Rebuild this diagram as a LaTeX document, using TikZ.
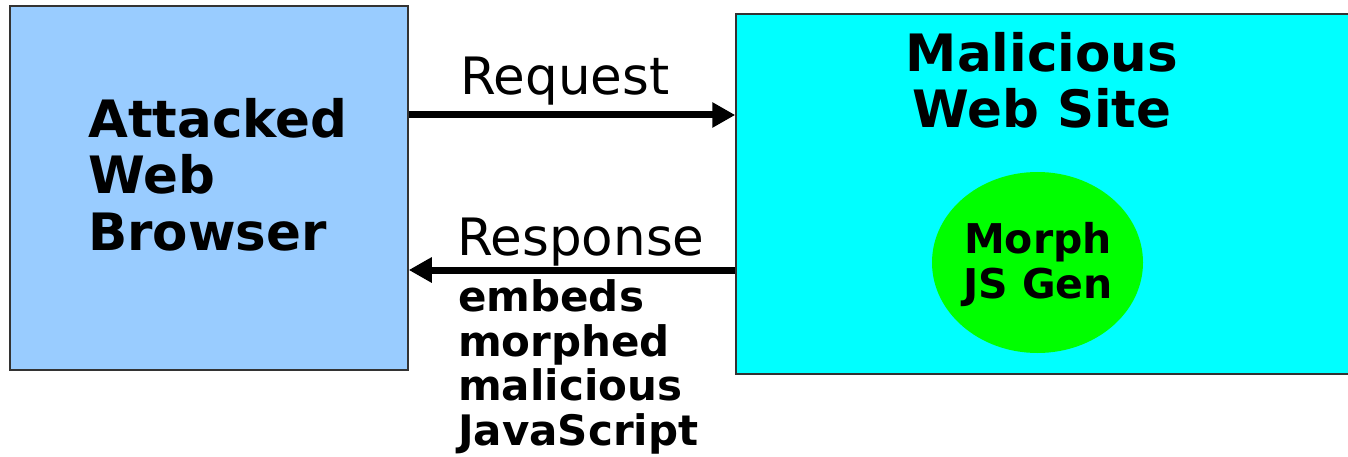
\documentclass[tikz,border=0pt]{standalone}
\usepackage{fontspec}
\setmainfont{DejaVu Sans}
\usetikzlibrary{arrows.meta,shapes.geometric}

\definecolor{browserblue}{HTML}{99CCFF}
\definecolor{sitecyan}{HTML}{00FFFF}
\definecolor{gengreen}{HTML}{00FF00}

\begin{document}
\begin{tikzpicture}[x=1pt,y=-1pt,
    box/.style={shape=rectangle,draw=black!80,line width=1.5pt,inner sep=0pt},
    flow/.style={line width=7pt,-{Triangle[length=23pt,width=24pt]}},
    bigtext/.style={font=\fontsize{51.5}{56.5}\selectfont\bfseries,inner sep=0pt},
    smalltext/.style={font=\fontsize{41}{45}\selectfont\bfseries,inner sep=0pt},
    plaintext/.style={font=\fontsize{51.5}{56}\selectfont,inner sep=0pt}]
            \clip (0,0) rectangle (1348,457);

            % boxes
            \node[box,fill=browserblue,minimum width=398pt,minimum height=364pt] (browser) at (209,188) {};
            \node[box,fill=sitecyan,minimum width=640pt,minimum height=360pt] (site) at (1056,194) {};
            \node[shape=ellipse,fill=gengreen,minimum width=211pt,minimum height=181pt,inner sep=0pt] (gen) at (1037.5,262.5) {};

            % box labels (base = last line)
            \node[bigtext,align=left,anchor=base west] (browserlabel) at (88,250) {Attacked\\Web\\Browser};
            \node[bigtext,align=center,anchor=base] (sitelabel) at (1042,128) {Malicious\\Web Site};
            \node[smalltext,align=center,anchor=base] (genlabel) at (1038,298) {Morph\\JS Gen};

            % arrows
            \coordinate (req) at (0,115);
            \coordinate (resp) at (0,270);
            \draw[flow] (browser.east |- req) -- (site.west |- req);
            \draw[flow] (site.west |- resp) -- (browser.east |- resp);

            % arrow labels
            \node[plaintext,anchor=base] (reqlabel) at (565,95) {Request};
            \node[plaintext,anchor=base west] (resplabel) at (457,255) {Response};
            \node[smalltext,font=\fontsize{42}{44.5}\selectfont\bfseries,align=left,anchor=base west] (respnote) at (458,445) {embeds\\morphed\\malicious\\JavaScript};
\end{tikzpicture}
\end{document}
